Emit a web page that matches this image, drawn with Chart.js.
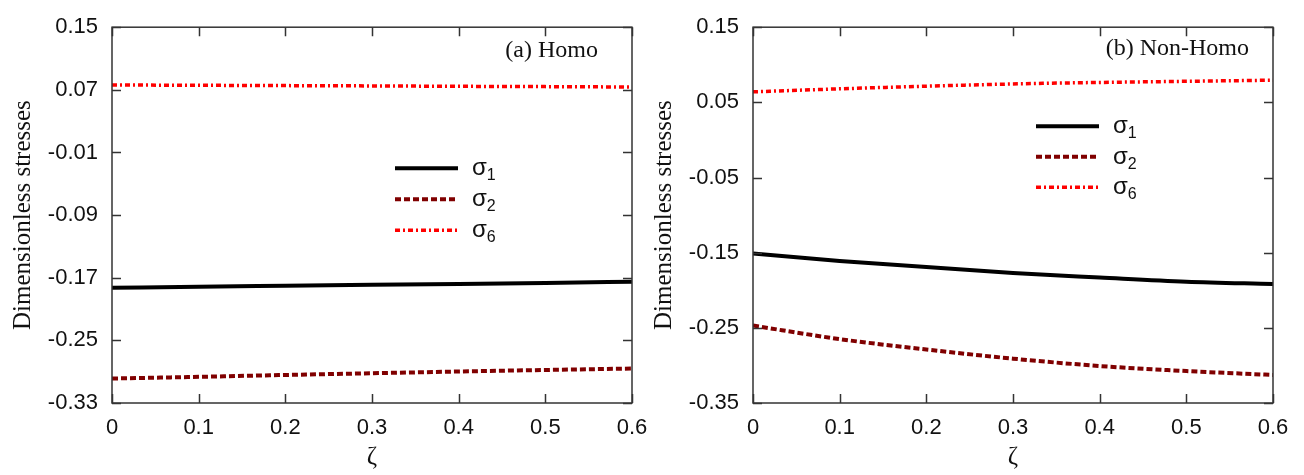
<!DOCTYPE html>
<html>
<head>
<meta charset="utf-8">
<script src="https://cdn.jsdelivr.net/npm/chart.js@4/dist/chart.umd.min.js"></script>
<style>
  body { margin: 0; background: #fff; }
  #wrap { position: relative; width: 1304px; height: 475px; overflow: hidden; }
  canvas { position: absolute; top: 0; }
  #panelA { left: 0; }
  #panelB { left: 641px; }
</style>
</head>
<body>
<div id="wrap">
  <canvas id="panelA" width="660" height="475"></canvas>
  <canvas id="panelB" width="663" height="475"></canvas>
</div>
<script>
// through-thickness coordinate
const zeta = [0, 0.1, 0.2, 0.3, 0.4, 0.5, 0.6];

// (a) homogeneous
const sigma1Homo = [-0.1828, -0.1815, -0.1803, -0.1791, -0.1779, -0.1766, -0.1752];
const sigma2Homo = [-0.2987, -0.2966, -0.2942, -0.2920, -0.2898, -0.2878, -0.2860];
const sigma6Homo = [0.0762, 0.0758, 0.0754, 0.0750, 0.0745, 0.0741, 0.0736];

// (b) non-homogeneous
const sigma1NonHomo = [-0.151, -0.161, -0.169, -0.177, -0.183, -0.1886, -0.1917];
const sigma2NonHomo = [-0.247, -0.265, -0.2788, -0.291, -0.3008, -0.3075, -0.3127];
const sigma6NonHomo = [0.064, 0.068, 0.0715, 0.0745, 0.0765, 0.078, 0.0795];

// tick labels
const xTicks = [0, 0.1, 0.2, 0.3, 0.4, 0.5, 0.6];
const yTicksHomo = [-0.33, -0.25, -0.17, -0.09, -0.01, 0.07, 0.15];
const yTicksNonHomo = [-0.35, -0.25, -0.15, -0.05, 0.05, 0.15];

const seriesNames = ['1', '2', '6']; // subscripts of sigma

const sansFont = '"Liberation Sans", Arial, sans-serif';
const serifFont = '"Liberation Serif", "Times New Roman", serif';

function points(ys) {
    return zeta.map((x, i) => ({ x: x, y: ys[i] }));
}

function makeDatasets(s1, s2, s6) {
    return [
        { label: 'σ1', data: points(s1), borderColor: '#000000', borderWidth: 4, borderDash: [] },
        { label: 'σ2', data: points(s2), borderColor: '#800000', borderWidth: 4, borderDash: [6, 3] },
        { label: 'σ6', data: points(s6), borderColor: '#ff0000', borderWidth: 3.5, borderDash: [5, 3, 2, 3] }
    ];
}

// frame, inward ticks on all sides, panel label and the in-plot legend
const framePlugin = {
    id: 'frameDecor',
    afterDraw(chart, args, opts) {
        const ctx = chart.ctx;
        const a = chart.chartArea;
        const xs = chart.scales.x, ys = chart.scales.y;
        ctx.save();
        ctx.setLineDash([]);
        ctx.strokeStyle = '#333';
        ctx.lineWidth = 1.5;
        ctx.strokeRect(a.left, a.top, a.right - a.left, a.bottom - a.top);
        ctx.beginPath();
        xs.ticks.forEach(t => {
            const px = Math.round(xs.getPixelForValue(t.value)) + 0.5;
            ctx.moveTo(px, a.bottom); ctx.lineTo(px, a.bottom - 9);
            ctx.moveTo(px, a.top); ctx.lineTo(px, a.top + 9);
        });
        ys.ticks.forEach(t => {
            const py = Math.round(ys.getPixelForValue(t.value)) + 0.5;
            ctx.moveTo(a.left, py); ctx.lineTo(a.left + 9, py);
            ctx.moveTo(a.right, py); ctx.lineTo(a.right - 9, py);
        });
        ctx.stroke();

        // panel label
        ctx.fillStyle = '#111';
        ctx.font = '24px ' + serifFont;
        ctx.textAlign = 'right';
        ctx.textBaseline = 'alphabetic';
        ctx.fillText(opts.label, a.right - opts.labelRight, opts.labelBaseline);

        // legend
        ctx.textAlign = 'left';
        chart.data.datasets.forEach((ds, i) => {
            const y = a.top + opts.legendTop + i * opts.legendGap;
            ctx.beginPath();
            ctx.setLineDash(ds.borderDash);
            ctx.lineWidth = ds.borderWidth;
            ctx.strokeStyle = ds.borderColor;
            ctx.moveTo(a.left + 283, y);
            ctx.lineTo(a.left + 346, y);
            ctx.stroke();
            ctx.setLineDash([]);
            ctx.font = '24px ' + sansFont;
            ctx.fillText('σ', a.left + 360, y + 7);
            const w = ctx.measureText('σ').width;
            ctx.font = '16px ' + sansFont;
            ctx.fillText(seriesNames[i], a.left + 360 + w, y + 12);
        });
        ctx.restore();
    }
};

function makeChart(id, datasets, yTicks, padRight, decor) {
    return new Chart(document.getElementById(id), {
        type: 'line',
        data: { datasets: datasets },
        options: {
            responsive: false,
            animation: false,
            devicePixelRatio: 1,
            layout: { padding: { top: 24, right: padRight, bottom: 0, left: 0 } },
            elements: {
                point: { radius: 0 },
                line: { tension: 0.4, cubicInterpolationMode: 'monotone', borderCapStyle: 'butt' }
            },
            plugins: {
                legend: { display: false },
                tooltip: { enabled: false },
                frameDecor: decor
            },
            scales: {
                x: {
                    type: 'linear',
                    min: 0, max: 0.6,
                    grid: { display: false, drawTicks: false },
                    border: { display: false },
                    afterBuildTicks: s => { s.ticks = xTicks.map(v => ({ value: v })); },
                    afterFit: s => { s.height = 72; },
                    ticks: {
                        padding: 12,
                        color: '#111',
                        font: { family: sansFont, size: 22 },
                        callback: v => (v === 0 ? '0' : v.toFixed(1))
                    },
                    title: {
                        display: true,
                        text: 'ζ',
                        color: '#111',
                        font: { family: serifFont, size: 25 },
                        padding: { top: 0, bottom: 3 }
                    }
                },
                y: {
                    min: yTicks[0], max: yTicks[yTicks.length - 1],
                    grid: { display: false, drawTicks: false },
                    border: { display: false },
                    afterBuildTicks: s => { s.ticks = yTicks.map(v => ({ value: v })); },
                    afterFit: s => { s.width = 112; },
                    ticks: {
                        padding: 14,
                        color: '#111',
                        font: { family: sansFont, size: 22 },
                        callback: v => v.toFixed(2)
                    },
                    title: {
                        display: true,
                        text: 'Dimensionless stresses',
                        color: '#111',
                        font: { family: serifFont, size: 25 },
                        padding: { top: 8, bottom: 0 }
                    }
                }
            }
        },
        plugins: [framePlugin]
    });
}

makeChart('panelA', makeDatasets(sigma1Homo, sigma2Homo, sigma6Homo), yTicksHomo, 28,
    { label: '(a) Homo', labelRight: 34, labelBaseline: 57, legendTop: 141, legendGap: 31 });
makeChart('panelB', makeDatasets(sigma1NonHomo, sigma2NonHomo, sigma6NonHomo), yTicksNonHomo, 31,
    { label: '(b) Non-Homo', labelRight: 24, labelBaseline: 55, legendTop: 99, legendGap: 30.5 });
</script>
</body>
</html>
